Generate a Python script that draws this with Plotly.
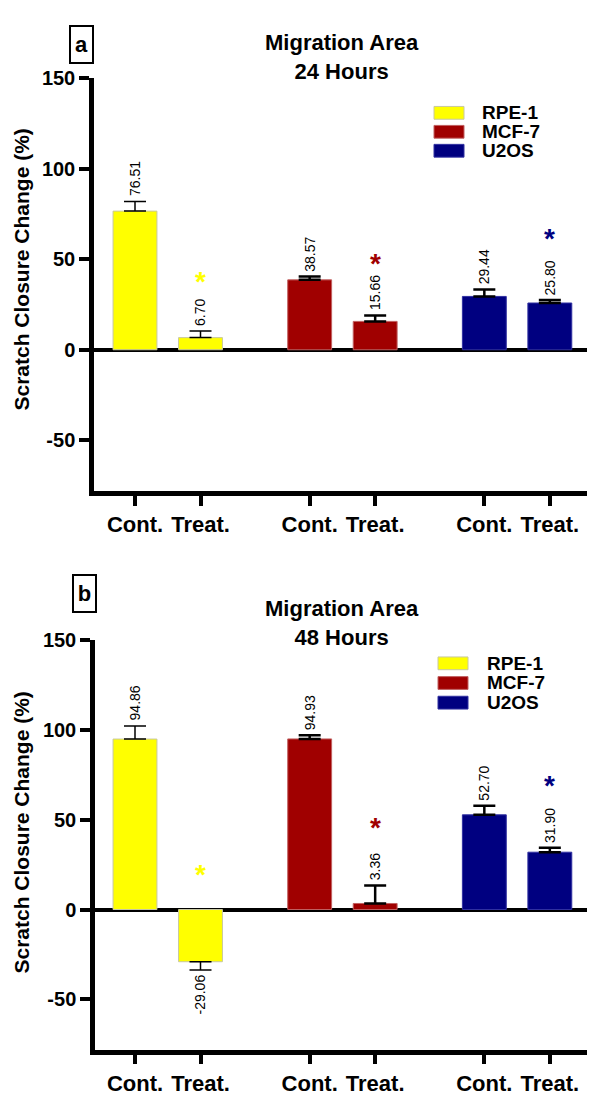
import plotly.graph_objects as go

# ---------------- data ----------------
cell_lines = ["RPE-1", "MCF-7", "U2OS"]
conditions = ["Cont.", "Treat."]
line_colors = ["#FFFF00", "#A00000", "#000080"]
edge_colors = ["#C8C8A0", "#C06060", "#3030A0"]

vals_24 = [[76.51, 6.70], [38.57, 15.66], [29.44, 25.80]]
err_24 = [[5.3, 3.7], [1.8, 3.3], [3.8, 1.6]]
star_24 = [41.5, 51.6, 65.0]

vals_48 = [[94.86, -29.06], [94.93, 3.36], [52.70, 31.90]]
err_48 = [[7.3, 4.6], [2.1, 10.0], [5.0, 2.5]]
star_48 = [23.4, 49.7, 73.0]

titles = ["Migration Area<br>24 Hours", "Migration Area<br>48 Hours"]
panel_tags = ["a", "b"]
y_title = "Scratch Closure Change (%)"
y_ticks = [150, 100, 50, 0, -50]

# ---------------- layout helpers ----------------
PAGE_W, PAGE_H = 595, 1096
OFF = 8  # default page body margin
FW, FH = PAGE_W - OFF, PAGE_H - OFF
FONT = "Arial, Liberation Sans, sans-serif"
GROUP_GAP = 8 / 3


def px_x(x):  # page pixel -> paper fraction
    return (x - OFF) / FW


def px_y(y):
    return 1 - (y - OFF) / FH


# plot areas in page pixels
panels = [
    dict(l=94, r=PAGE_W, t=68, b=488.5, title_y=46.5, tag=(81.5, 33.5), ytitle=263,
         lg_x=434, lg_y=103.5, lg_dy=19.3, lg_tx=480),
    dict(l=95, r=PAGE_W, t=640, b=1057, title_y=622.5, tag=(84, 593), ytitle=836,
         lg_x=438, lg_y=663.8, lg_dy=20, lg_tx=485),
]

fig = go.Figure()
annotations = []
shapes = []

datasets = [(vals_24, err_24, star_24), (vals_48, err_48, star_48)]
for p, (vals, errs, stars) in enumerate(datasets):
    xa = "x" if p == 0 else "x2"
    ya = "y" if p == 0 else "y2"
    for g, name in enumerate(cell_lines):
        xs = [g * GROUP_GAP + i for i in range(len(conditions))]
        ys = vals[g]
        up = [e if v >= 0 else 0 for v, e in zip(ys, errs[g])]
        down = [e if v < 0 else 0 for v, e in zip(ys, errs[g])]
        fig.add_trace(go.Bar(
            x=xs, y=ys, xaxis=xa, yaxis=ya, name=name, showlegend=False,
            width=0.67,
            marker=dict(color=line_colors[g], line=dict(color=edge_colors[g], width=1)),
            error_y=dict(type="data", symmetric=False, array=up, arrayminus=down,
                         color="black", thickness=1.5 if g == 0 else 2.5, width=11),
        ))
        for x, v, e in zip(xs, ys, errs[g]):
            if v >= 0:
                annotations.append(dict(
                    x=x, y=v + e, xref=xa, yref=ya, text=f"{v:.2f}", showarrow=False,
                    textangle=-90, yanchor="bottom", xanchor="center", yshift=3,
                    font=dict(family=FONT, size=14, color="black")))
            else:
                annotations.append(dict(
                    x=x, y=v - e, xref=xa, yref=ya, text=f"{v:.2f}", showarrow=False,
                    textangle=-90, yanchor="top", xanchor="center", yshift=-3,
                    font=dict(family=FONT, size=14, color="black")))
        # significance asterisk above treated bar
        annotations.append(dict(
            x=g * GROUP_GAP + 1, y=stars[g], xref=xa, yref=ya, text="<b>*</b>",
            showarrow=False, yanchor="middle", xanchor="center", yshift=-7,
            font=dict(family=FONT, size=28, color=line_colors[g])))

    pan = panels[p]
    # title
    annotations.append(dict(
        x=px_x(342), y=px_y(pan["title_y"]), xref="paper", yref="paper",
        text=f"<b>{titles[p]}</b>", showarrow=False, xanchor="center", yanchor="middle",
        font=dict(family=FONT, size=22, color="black")))
    # y title
    annotations.append(dict(
        x=px_x(22), y=px_y(pan["ytitle"]), xref="paper", yref="paper",
        text=f"<b>{y_title}</b>", showarrow=False, textangle=-90,
        xanchor="center", yanchor="middle",
        font=dict(family=FONT, size=21, color="black")))
    # panel tag box
    annotations.append(dict(
        x=px_x(pan["tag"][0]), y=px_y(pan["tag"][1]), xref="paper", yref="paper",
        text=f"<b>{panel_tags[p]}</b>", showarrow=False, width=21, height=35,
        xanchor="center", yanchor="middle",
        bordercolor="black", borderwidth=2, borderpad=0,
        font=dict(family=FONT, size=22, color="black")))
    # legend
    for g, name in enumerate(cell_lines):
        yc = pan["lg_y"] + g * pan["lg_dy"]
        shapes.append(dict(
            type="rect", xref="paper", yref="paper",
            x0=px_x(pan["lg_x"]), x1=px_x(pan["lg_x"] + 30),
            y0=px_y(yc - 6.5), y1=px_y(yc + 6.5),
            fillcolor=line_colors[g], line=dict(color=edge_colors[g], width=1)))
        annotations.append(dict(
            x=px_x(pan["lg_tx"]), y=px_y(yc), xref="paper", yref="paper",
            text=f"<b>{name}</b>", showarrow=False, xanchor="left", yanchor="middle",
            font=dict(family=FONT, size=19, color="black")))

tickvals = [g * GROUP_GAP + i for g in range(len(cell_lines)) for i in range(len(conditions))]
ticktext = [c for _ in cell_lines for c in conditions]

UNIT = 65.5  # px per x unit
TICK0 = 135  # page px of first tick
for p in range(2):
    pan = panels[p]
    xkey = "xaxis" if p == 0 else "xaxis2"
    ykey = "yaxis" if p == 0 else "yaxis2"
    xr = [(pan["l"] - TICK0) / UNIT, (pan["r"] - TICK0) / UNIT]
    fig.update_layout(**{
        xkey: dict(
            domain=[px_x(pan["l"]), px_x(pan["r"])], range=xr, anchor="y" if p == 0 else "y2",
            tickvals=tickvals, ticktext=[f"<b>{t}</b>" for t in ticktext],
            showline=True, linecolor="black", linewidth=4.5,
            ticks="outside", ticklen=10, tickwidth=4, tickcolor="black",
            showgrid=False, zeroline=False, fixedrange=True,
            tickfont=dict(family=FONT, size=22, color="black")),
        ykey: dict(
            domain=[px_y(pan["b"]), px_y(pan["t"])], range=[-78, 150],
            anchor="x" if p == 0 else "x2",
            tickvals=y_ticks, ticktext=[f"<b>{t}</b>" for t in y_ticks],
            showline=True, linecolor="black", linewidth=4.5,
            ticks="outside", ticklen=10, tickwidth=4, tickcolor="black",
            showgrid=False, zeroline=True, zerolinecolor="black", zerolinewidth=4,
            tickfont=dict(family=FONT, size=20, color="black")),
    })

fig.update_layout(
    width=FW, height=FH, margin=dict(l=0, r=0, t=0, b=0),
    paper_bgcolor="white", plot_bgcolor="white",
    barmode="overlay", showlegend=False,
    annotations=annotations, shapes=shapes,
    font=dict(family=FONT, color="black"),
)

fig.write_html("out.html")
